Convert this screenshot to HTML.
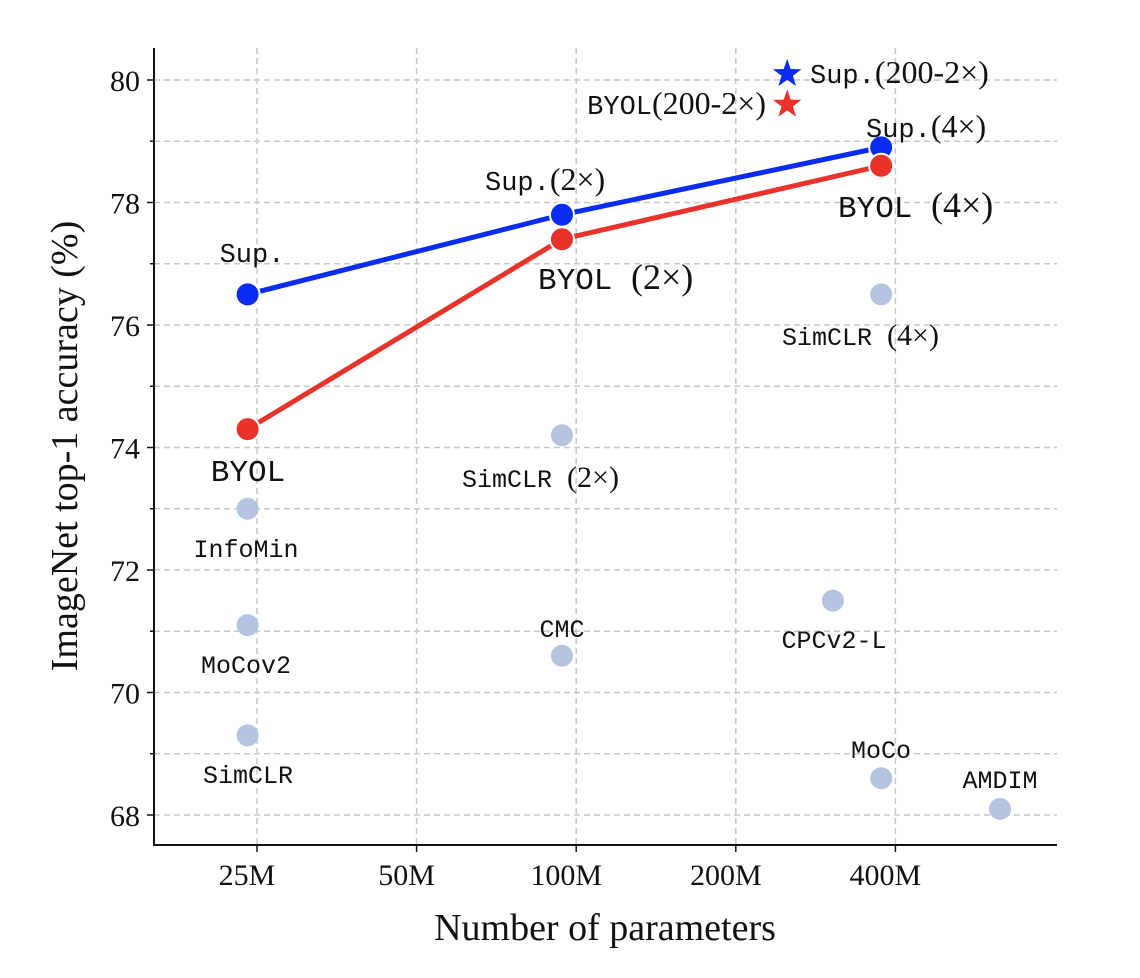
<!DOCTYPE html>
<html><head><meta charset="utf-8"><style>
html,body{margin:0;padding:0;background:#fff}
svg{display:block}
.tk{font-family:"Liberation Serif",serif;font-size:30px;fill:#111}
.lb{font-family:"Liberation Mono",monospace;font-size:25px;fill:#111}
.ls{font-family:"Liberation Serif",serif;font-size:30px;fill:#111}
</style></head><body>
<svg id="chart" width="1140" height="978" viewBox="0 0 1140 978"></svg>
<script>
const xTicks=[25,50,100,200,400];
const xTickLabels=["25M","50M","100M","200M","400M"];
const yTicks=[68,70,72,74,76,78,80];
const supParams=[24,94,376];
const supAcc=[76.5,77.8,78.9];
const byolParams=[24,94,376];
const byolAcc=[74.3,77.4,78.6];
const otherNames=["InfoMin","MoCov2","SimCLR","SimCLR (2×)","CMC","SimCLR (4×)","CPCv2-L","MoCo","AMDIM"];
const otherParams=[24,24,24,94,94,376,305,376,630];
const otherAcc=[73.0,71.1,69.3,74.2,70.6,76.5,71.5,68.6,68.1];
const starParams=[250,250];
const starAcc=[80.1,79.6];

const NS="http://www.w3.org/2000/svg";
const svg=document.getElementById('chart');
function X(m){return 257+159.6*Math.log2(m/25);}
function Y(v){return 815-(v-68)*61.25;}
function el(t,a,p){const e=document.createElementNS(NS,t);for(const k in a)e.setAttribute(k,a[k]);(p||svg).appendChild(e);return e;}
function txt(s,x,y,cls,anchor){const e=el('text',{x:x,y:y,class:cls,'text-anchor':anchor||'middle'});e.textContent=s;return e;}
const L=154,R=1057,T=48,B=845;
for(let v=68;v<=80;v++){
 const g=el('line',{x1:L,x2:R,y1:Y(v),y2:Y(v),stroke:'#c8c8c8','stroke-width':1.5,'stroke-dasharray':'6,4'});
 
 
 el('line',{x1:L,x2:L-(v%2?4:7),y1:Y(v),y2:Y(v),stroke:'#111','stroke-width':1.5});
}
xTicks.forEach((t,i)=>{
 const g=el('line',{x1:X(t),x2:X(t),y1:T,y2:B,stroke:'#c8c8c8','stroke-width':1.5,'stroke-dasharray':'6,4'});
 
 
 el('line',{x1:X(t),x2:X(t),y1:B,y2:B+7,stroke:'#111','stroke-width':1.5});
 const l=txt(xTickLabels[i],X(t)-10,B+40,'tk');
 
 
});
yTicks.forEach(v=>{
 const l=txt(String(v),140,Y(v)+11,'tk','end');
 
 
});
el('line',{x1:L,x2:L,y1:T,y2:B+1,stroke:'#111','stroke-width':2});
el('line',{x1:L-1,x2:R,y1:B,y2:B,stroke:'#111','stroke-width':2});
const xt=txt('Number of parameters',605,940,'ls');xt.style.fontSize='38px';


const yt=txt('ImageNet top-1 accuracy (%)',0,0,'ls');yt.style.fontSize='38px';yt.setAttribute('transform','translate(77,446) rotate(-90)');


otherParams.forEach((p,i)=>{
 const c=el('circle',{cx:X(p),cy:Y(otherAcc[i]),r:11,fill:'#b4c3de'});
 
 
});
function series(px,py,col,name){
 const pts=px.map((p,i)=>X(p)+','+Y(py[i])).join(' ');
 const l=el('polyline',{points:pts,fill:'none',stroke:col,'stroke-width':5});
 
 
 px.forEach((p,i)=>{
  const c=el('circle',{cx:X(p),cy:Y(py[i]),r:12,fill:col,stroke:'#fff','stroke-width':2});
  
  
 });
}
series(supParams,supAcc,'#0a2cf0','sup');
series(byolParams,byolAcc,'#e8322a','byol');
function star(cx,cy,r,col){
 let d='';for(let k=0;k<10;k++){const a=-Math.PI/2+k*Math.PI/5;const rr=k%2?r*0.4:r;d+=(k?'L':'M')+(cx+rr*Math.cos(a)).toFixed(1)+','+(cy+rr*Math.sin(a)).toFixed(1);}
 return el('path',{d:d+'Z',fill:col});
}
const s1=star(X(starParams[0]),Y(starAcc[0]),15,'#0a2cf0');


const s2=star(X(starParams[1]),Y(starAcc[1]),15,'#e8322a');


// [mono, serif, x, y, anchor, size]
const labels=[
 ['Sup.','',252,262,'middle',27],
 ['Sup.','(2×)',485,190,'start',27],
 ['Sup.','(4×)',866,137,'start',27],
 ['Sup.','(200-2×)',810,83,'start',27],
 ['BYOL','(200-2×)',766,114,'end',27],
 ['BYOL ','(4×)',838,217,'start',31],
 ['BYOL ','(2×)',538,289,'start',31],
 ['BYOL','',248,481,'middle',31],
 ['InfoMin','',246,557,'middle',25],
 ['MoCov2','',246,673,'middle',25],
 ['SimCLR','',248,783,'middle',25],
 ['SimCLR ','(2×)',462,487,'start',25],
 ['CMC','',562,637,'middle',25],
 ['SimCLR ','(4×)',782,345,'start',25],
 ['CPCv2-L','',834,648,'middle',25],
 ['MoCo','',881,758,'middle',25],
 ['AMDIM','',1000,788,'middle',25]
];
labels.forEach(l=>{
 const t=el('text',{x:l[2],y:l[3],'text-anchor':l[4]});
 
 
 const a=el('tspan',{},t);a.textContent=l[0];a.setAttribute('class','lb');a.style.fontSize=l[5]+'px';
 if(l[1]){const b=el('tspan',{},t);b.textContent=l[1];b.setAttribute('class','ls');b.style.fontSize=(l[5]+5)+'px';}
});
</script>
</body></html>
